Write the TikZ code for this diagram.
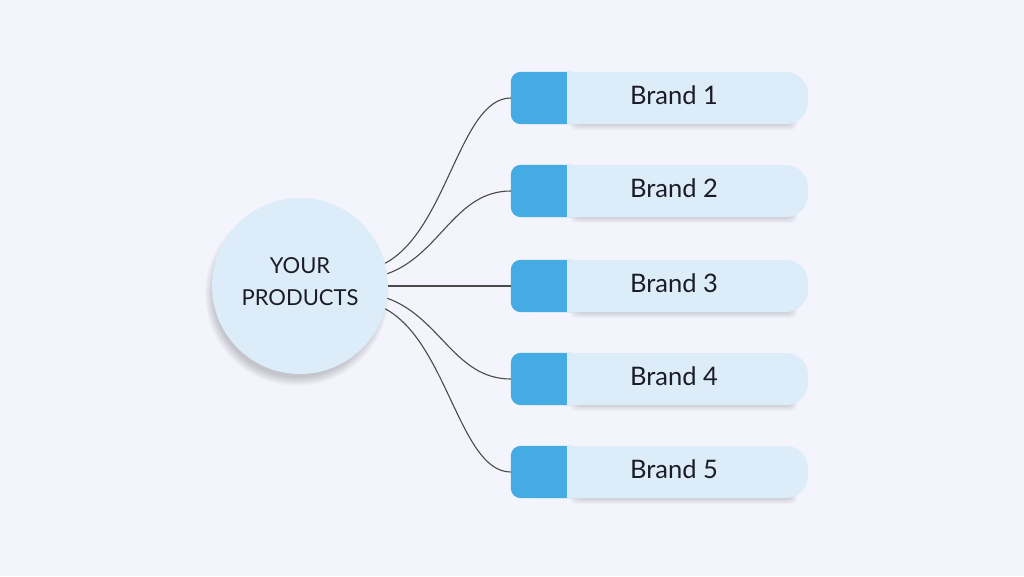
\documentclass[tikz,border=0pt]{standalone}
\usepackage{fontspec}
\setmainfont{Lato}
\definecolor{bg}{HTML}{F4F5FC}
\definecolor{lightb}{HTML}{DCEDF9}
\definecolor{blueb}{HTML}{45ABE3}
\definecolor{ink}{HTML}{1C1C28}
\definecolor{wire}{HTML}{4A4A4A}
\begin{document}
\begin{tikzpicture}[x=1pt,y=-1pt,
  hub/.style={circle,fill=lightb,minimum size=176pt,inner sep=0pt,align=center,
    text=ink,font=\fontsize{22}{32}\selectfont},
  lightbar/.style={rectangle,fill=lightb,minimum width=297pt,minimum height=52pt,
    inner sep=0pt,rounded corners=22pt},
  brandtext/.style={text=ink,font=\fontsize{25.5}{28}\selectfont,inner sep=0pt},
  wire/.style={draw=wire,line width=1.1pt}]
\fill[bg] (0,0) rectangle (1024,576);
\useasboundingbox (0,0) rectangle (1024,576);
% circle shadow
\foreach \r in {83,84,85,86,87,88,89,90,91,92}
  \fill[black,opacity=0.02] (297,294) circle (\r pt);
\node[hub] (p) at (300,286) {};
\node[text=ink,font=\fontsize{22}{32}\selectfont,align=center,inner sep=0pt] (pt) at (300,282) {YOUR\\PRODUCTS};
% bars
\foreach \i/\y in {1/98,2/191,3/286,4/379,5/472}{
  \foreach \d in {0,1,2,3,4,5,6,7}
    \fill[black,opacity=0.022,rounded corners=5pt] (570+\d,\y+12) rectangle (797-\d,\y+32-\d);
  \node[lightbar] (b\i) at (659.5,\y) {};
  \fill[blueb,rounded corners=10pt] (b\i.north west) rectangle ([xshift=70pt]b\i.south west);
  \fill[lightb] ([xshift=56pt]b\i.north west) rectangle ([xshift=80pt]b\i.south west);
  \node[brandtext] (t\i) at (674,\y-3) {Brand \i};
}
% connectors
\draw[wire] (p.15) .. controls +(62,-33) and +(-51,0) .. (b1.west);
\draw[wire] (p.8) .. controls +(53,-19) and +(-56,0) .. (b2.west);
\draw[wire] (p.east) -- (b3.west);
\draw[wire] (p.-8) .. controls +(53,19) and +(-56,0) .. (b4.west);
\draw[wire] (p.-15) .. controls +(62,33) and +(-51,0) .. (b5.west);
\end{tikzpicture}
\end{document}
